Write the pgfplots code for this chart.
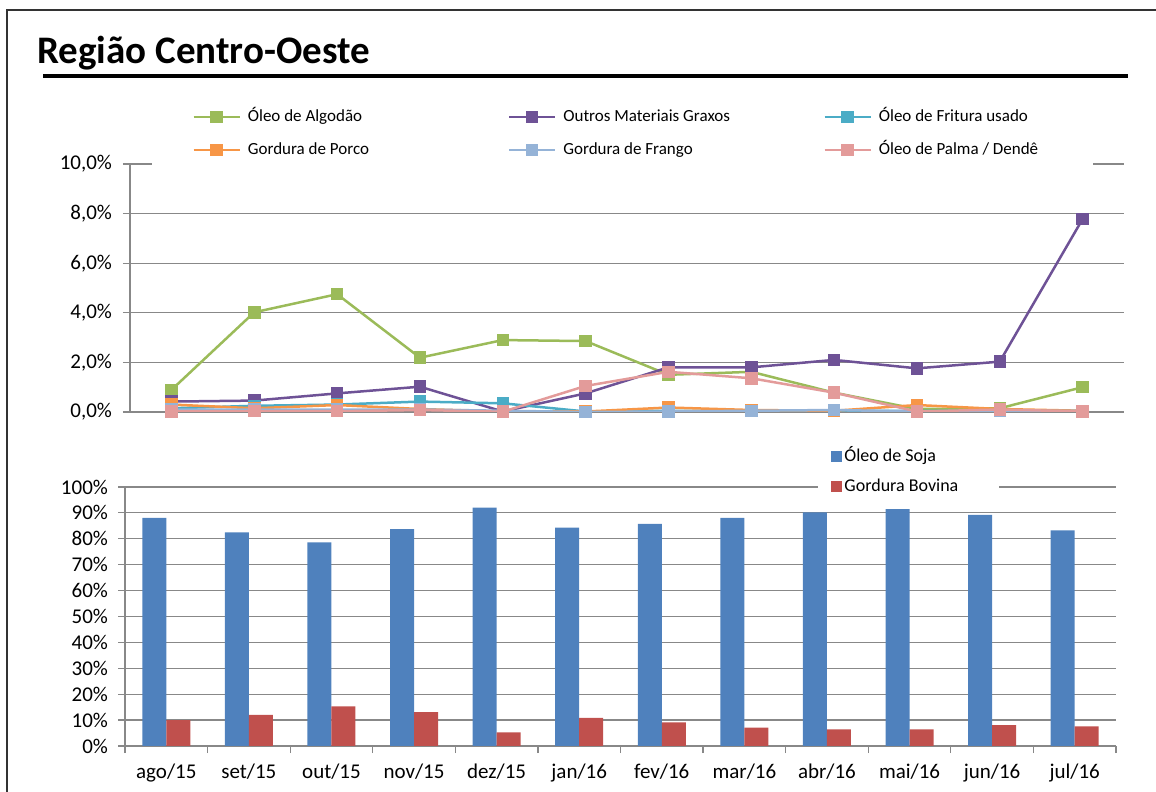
\documentclass[border=0pt]{standalone}
\usepackage{pgfplots}
\pgfplotsset{compat=1.18}
\usepackage{fontspec}
\setmainfont{Carlito}

\definecolor{cAlg}{HTML}{9BBB59}
\definecolor{cOut}{HTML}{6E5296}
\definecolor{cFri}{HTML}{4BACC6}
\definecolor{cPor}{HTML}{F79646}
\definecolor{cFra}{HTML}{95B3D7}
\definecolor{cPal}{HTML}{E39B9A}
\definecolor{cSoj}{HTML}{4F81BD}
\definecolor{cBov}{HTML}{C0504D}
\definecolor{cGrid}{HTML}{888888}

% legend text of fixed width and height
\newcommand{\lt}[2]{\makebox[#1][l]{\raisebox{0pt}[6pt][2pt]{#2}}}
\newcommand{\lb}[1]{\makebox[71pt][l]{\raisebox{0pt}[6.5pt][2pt]{#1}}}

\pgfplotsset{
  common/.style={
    scale only axis,
    anchor=south west,
    xmin=-0.5, xmax=11.5,
    axis x line*=bottom, axis y line*=left,
    axis line style={cGrid, line width=0.6pt},
    ymajorgrids,
    major grid style={cGrid, line width=0.6pt},
    tick style={cGrid, line width=0.6pt},
    tick align=outside,
    major tick length=3.5pt,
    /pgf/number format/assume math mode=true,
    ticklabel style={font=\fontsize{10.5}{12}\selectfont},
    legend cell align=left,
  },
}

\begin{document}
\begin{tikzpicture}[x=1pt,y=1pt]
\useasboundingbox (0,0) rectangle (578,396);
\draw[line width=1pt, black!80] (3.5,-2) -- (3.5,391) -- (580,391);
\node[anchor=base west, inner sep=0pt, font=\fontsize{19.5}{22}\selectfont\bfseries] at (18.5,364.25) {Região Centro-Oeste};
\draw[line width=2pt] (21.5,358) -- (564,358);

% top chart: minor raw materials
\begin{axis}[common,
  at={(65pt,190pt)},
  width=497pt, height=124pt,
  ymin=0, ymax=10,
  ytick={0,2,...,10},
  xtick=\empty,
  yticklabel={\pgfmathprintnumber[fixed,fixed zerofill,precision=1,use comma]{\tick}\%},
  yticklabel style={xshift=-2pt},
  every axis plot/.append style={line width=1.25pt, mark=square*, mark size=2.5pt},
  legend columns=3,
  legend image code/.code={\draw[mark repeat=2,mark phase=2,#1] plot coordinates {(0pt,0pt) (11.5pt,0pt) (23pt,0pt)};},
  legend style={at={(0.0221,1.270)}, anchor=north west, draw=none, fill=white,
    inner xsep=20pt, inner ysep=6pt, row sep=9pt,
    font=\fontsize{8.5}{10}\selectfont,
    nodes={inner sep=0pt},
    /tikz/every odd column/.append style={column sep=3.5pt}},
]
\addplot[cAlg, mark options={fill=cAlg}] coordinates {(0,0.89) (1,4.02) (2,4.75) (3,2.19) (4,2.90) (5,2.86) (6,1.50) (7,1.62) (8,0.78) (9,0.12) (10,0.15) (11,1.00)};
\addlegendentry{\lt{130pt}{Óleo de Algodão}}
\addplot[cOut, mark options={fill=cOut}] coordinates {(0,0.42) (1,0.46) (2,0.75) (3,1.02) (4,0.02) (5,0.75) (6,1.80) (7,1.80) (8,2.10) (9,1.76) (10,2.03) (11,7.78)};
\addlegendentry{\lt{130pt}{Outros Materiais Graxos}}
\addplot[cFri, mark options={fill=cFri}] coordinates {(0,0.15) (1,0.25) (2,0.30) (3,0.42) (4,0.35) (5,0.02) (6,0.05) (7,0.05) (8,0.05) (9,0.05) (10,0.05) (11,0.05)};
\addlegendentry{\lt{87pt}{Óleo de Fritura usado}}
\addplot[cPor, mark options={fill=cPor}] coordinates {(0,0.30) (1,0.15) (2,0.28) (3,0.12) (4,0.02) (5,0.02) (6,0.18) (7,0.08) (8,0.05) (9,0.28) (10,0.12) (11,0.05)};
\addlegendentry{\lt{130pt}{Gordura de Porco}}
\addplot[cFra, mark options={fill=cFra}] coordinates {(0,0.10) (1,0.10) (2,0.10) (3,0.10) (4,0.05) (5,0.00) (6,0.02) (7,0.05) (8,0.08) (9,0.02) (10,0.05) (11,0.05)};
\addlegendentry{\lt{130pt}{Gordura de Frango}}
\addplot[cPal, mark options={fill=cPal}] coordinates {(0,0.02) (1,0.03) (2,0.03) (3,0.08) (4,0.01) (5,1.05) (6,1.62) (7,1.36) (8,0.78) (9,0.02) (10,0.10) (11,0.02)};
\addlegendentry{\lt{87pt}{Óleo de Palma / Dendê}}
\end{axis}

% bottom chart: soybean oil and beef tallow
\begin{axis}[common,
  at={(62.5pt,23pt)},
  width=495.5pt, height=129.5pt,
  ymin=0, ymax=100,
  ytick={0,10,...,100},
  yticklabel={\pgfmathprintnumber{\tick}\%},
  yticklabel style={xshift=-1.5pt},
  xtick={-0.5,0.5,...,11.5}, xticklabels={},
  extra x ticks={0,1,...,11},
  extra x tick labels={ago/15,set/15,out/15,nov/15,dez/15,jan/16,fev/16,mar/16,abr/16,mai/16,jun/16,jul/16},
  extra x tick style={major tick length=0pt, xticklabel style={yshift=-5.5pt}},
  ybar=0pt, bar width=12pt,
  legend image code/.code={\fill[#1] (0pt,-2.75pt) rectangle (5.5pt,2.75pt);},
  legend style={at={(0.6993,1.183)}, anchor=north west, draw=none, fill=white,
    inner xsep=6.5pt, inner ysep=4pt, row sep=7pt,
    font=\fontsize{9}{10.8}\selectfont,
    nodes={inner sep=0pt},
    /tikz/every odd column/.append style={column sep=1pt}},
]
\addplot[draw=none, fill=cSoj] coordinates {(0,88.1) (1,82.5) (2,78.6) (3,83.7) (4,92.0) (5,84.3) (6,85.8) (7,88.1) (8,90.2) (9,91.5) (10,89.2) (11,83.3)};
\addlegendentry{\lb{Óleo de Soja}}
\addplot[draw=none, fill=cBov] coordinates {(0,10.0) (1,12.0) (2,15.3) (3,13.1) (4,5.3) (5,10.9) (6,9.1) (7,7.1) (8,6.4) (9,6.4) (10,8.1) (11,7.6)};
\addlegendentry{\lb{Gordura Bovina}}
\end{axis}
\end{tikzpicture}
\end{document}
